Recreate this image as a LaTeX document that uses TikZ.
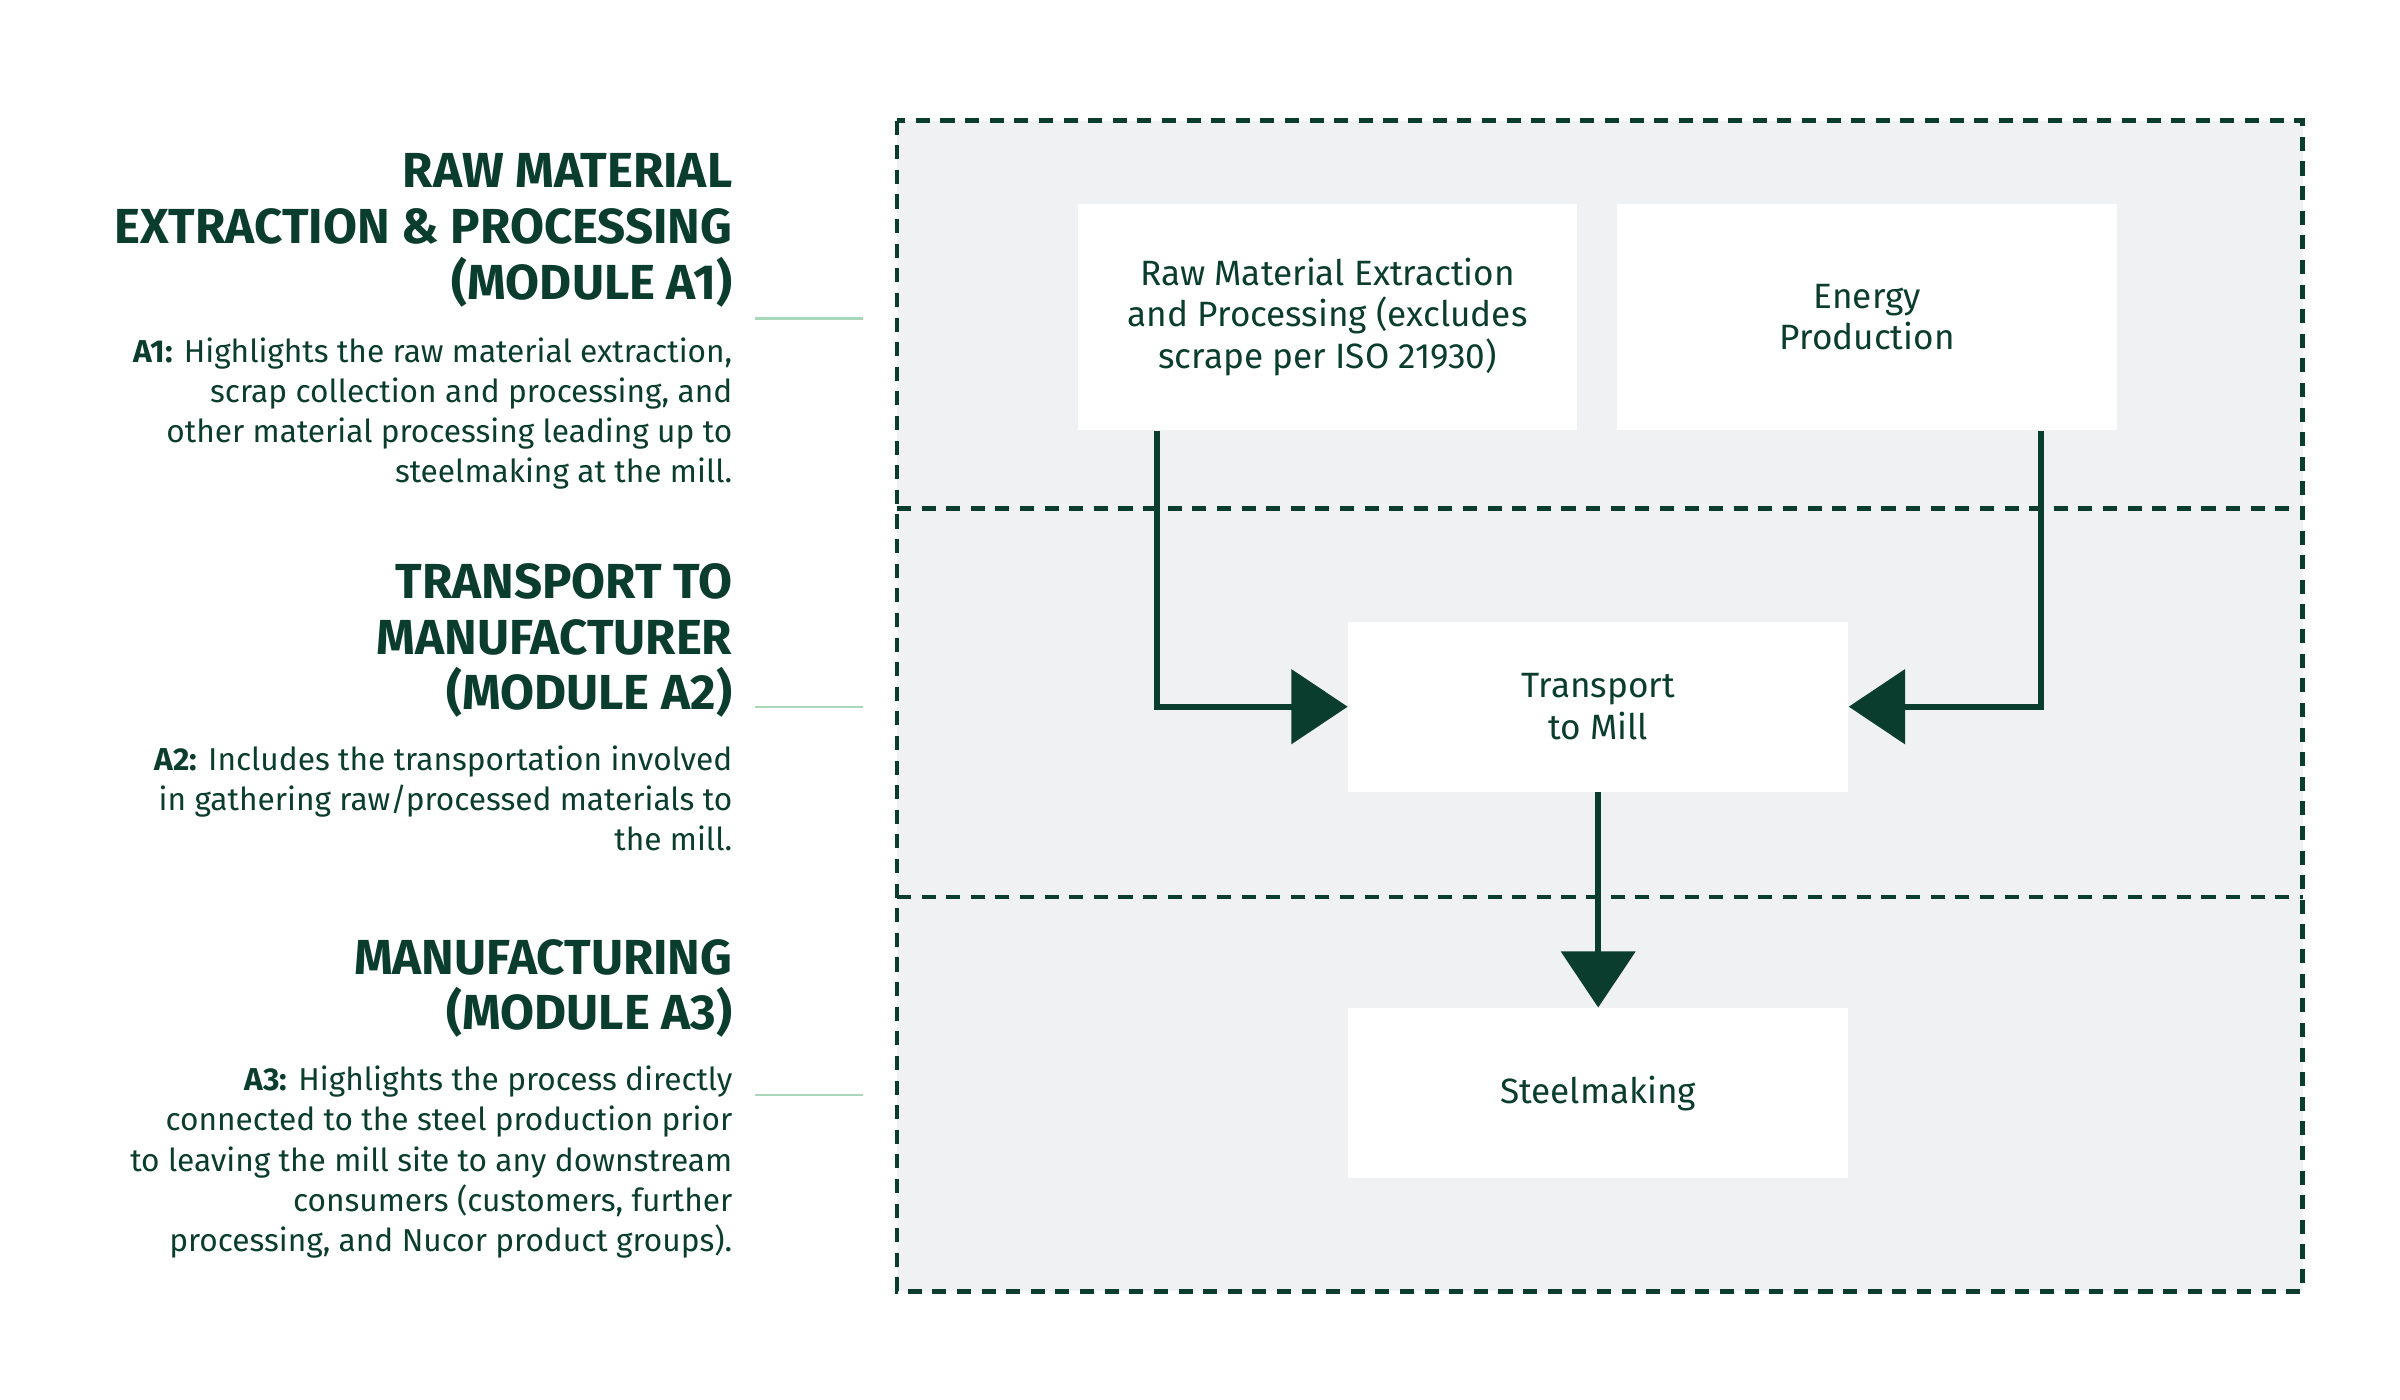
\documentclass[tikz,border=0pt]{standalone}
\usepackage{fontspec}
\setmainfont{Fira Sans}
\usetikzlibrary{arrows.meta,positioning}
\definecolor{dkgreen}{HTML}{0B3D2E}
\definecolor{bggray}{HTML}{F0F1F2}
\definecolor{ltgreen}{HTML}{A8D8B9}
\begin{document}
\begin{tikzpicture}[x=0.015464cm,y=-0.015464cm]
\tikzstyle{stage}=[draw=none,fill=white,text=dkgreen,align=center,
font=\fontsize{10pt}{11.8pt}\selectfont,inner sep=0pt]
\tikzstyle{head}=[anchor=north east,align=right,text=dkgreen,inner sep=0pt,
font=\fontsize{14pt}{15.8pt}\selectfont\bfseries]
\tikzstyle{body}=[anchor=north east,align=right,text=dkgreen,inner sep=0pt,
font=\fontsize{9pt}{11.4pt}\selectfont]
\tikzstyle{flow}=[draw=dkgreen,line width=1.6pt,-{Triangle[length=16pt,width=21pt]}]
\tikzstyle{link}=[draw=ltgreen,line width=0.6pt]
\useasboundingbox (0,0) rectangle (1552,905);
% module bands
\fill[bggray] (580,78) rectangle (1489,835);
\draw[dkgreen,line width=1.3pt,dash pattern=on 4pt off 3pt] (580,78) rectangle (1489,835);
\draw[dkgreen,line width=1.3pt,dash pattern=on 4pt off 3pt] (580,329) -- (1489,329);
\draw[dkgreen,line width=1.3pt,dash pattern=on 4pt off 3pt] (580,580) -- (1489,580);
% stages
\node[stage,minimum width=323*0.15464mm,minimum height=146*0.15464mm] at (858.5,205) (raw)
{Raw Material Extraction\\and Processing (excludes\\scrape per ISO 21930)};
\node[stage,minimum width=323*0.15464mm,minimum height=146*0.15464mm] at (1207.5,205) (energy)
{Energy\\Production};
\node[stage,minimum width=323*0.15464mm,minimum height=110*0.15464mm] at (1033.5,457) (trans)
{Transport\\to Mill};
\node[stage,minimum width=323*0.15464mm,minimum height=110*0.15464mm] at (1033.5,707) (steel)
{Steelmaking};
\coordinate (rawc) at (748,457);
\coordinate (enc) at (1320,457);
\draw[flow] (raw.south -| rawc) -- (rawc) -- (trans.west);
\draw[flow] (energy.south -| enc) -- (enc) -- (trans.east);
\draw[flow] (trans.south) -- (steel.north);
% module texts
\node[head] at (474,99) (h1) {RAW MATERIAL\\EXTRACTION \& PROCESSING\\(MODULE A1)};
\node[body] at (474,218) (b1) {\textbf{A1:} Highlights the raw material extraction,\\scrap collection and processing, and\\other material processing leading up to\\steelmaking at the mill.};
\node[head] at (474,364) (h2) {TRANSPORT TO\\MANUFACTURER\\(MODULE A2)};
\node[body] at (474,482) (b2) {\textbf{A2:} Includes the transportation involved\\in gathering raw/processed materials to\\the mill.};
\node[head] at (474,607) (h3) {MANUFACTURING\\(MODULE A3)};
\node[body] at (474,689) (b3) {\textbf{A3:} Highlights the process directly\\connected to the steel production prior\\to leaving the mill site to any downstream\\consumers (customers, further\\processing, and Nucor product groups).};
\coordinate (l1) at (488,206); \coordinate (l2) at (488,457); \coordinate (l3) at (488,708);
\draw[link] (l1) -- ++(70,0);
\draw[link] (l2) -- ++(70,0);
\draw[link] (l3) -- ++(70,0);
\end{tikzpicture}
\end{document}
